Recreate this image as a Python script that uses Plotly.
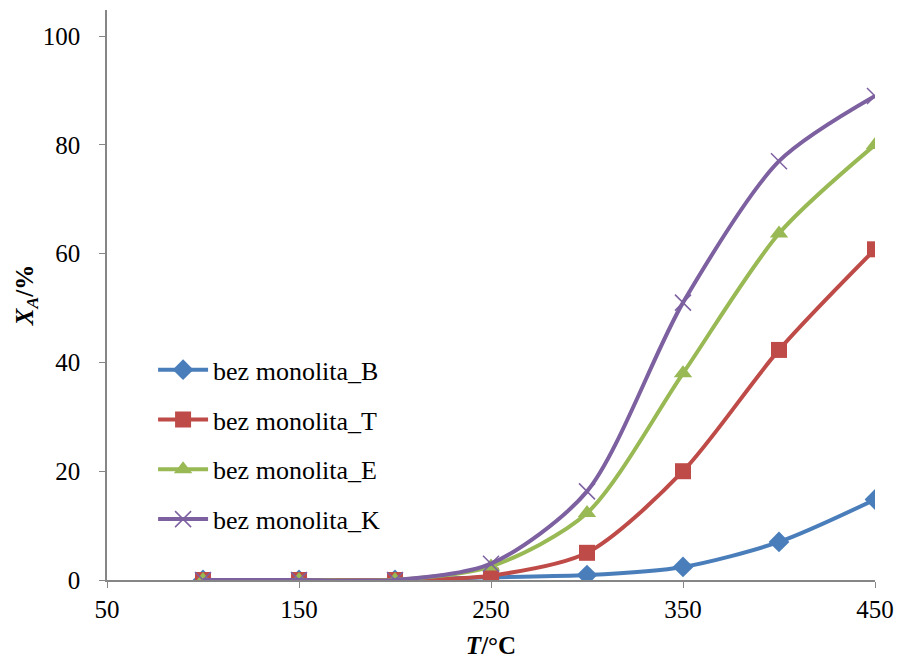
import plotly.graph_objects as go

temps = [100, 150, 200, 250, 300, 350, 400, 450]
x_B = [0, 0, 0, 0.5, 0.9, 2.4, 7.0, 14.8]
x_T = [0, 0, 0, 0.8, 5.0, 20.0, 42.3, 60.8]
x_E = [0, 0, 0, 2.5, 12.3, 38.0, 63.7, 80.0]
x_K = [0, 0, 0, 3.0, 16.3, 51.0, 77.0, 89.0]
names = ["bez monolita_B", "bez monolita_T", "bez monolita_E", "bez monolita_K"]
colors = ["#4A7EBB", "#BE4B48", "#98B954", "#7D60A0"]
symbols = ["diamond", "square", "triangle-up", "x-thin"]
series = [x_B, x_T, x_E, x_K]

fig = go.Figure()
for name, ys, c, s in zip(names, series, colors, symbols):
    marker = dict(symbol=s, size=16, color=c)
    if s == "x-thin":
        marker = dict(symbol=s, size=16, color=c, line=dict(width=1.5, color=c))
    fig.add_trace(go.Scatter(
        x=temps, y=ys, name=name, mode="lines+markers", legendgroup=name,
        line=dict(color=c, width=4, shape="spline", smoothing=0.8),
        marker=marker,
    ))

font_family = "Liberation Serif, Times New Roman, serif"
fig.update_layout(
    width=897, height=659,
    margin=dict(l=107, r=22, t=10, b=79),
    paper_bgcolor="white", plot_bgcolor="white",
    font=dict(family=font_family, size=25, color="black"),
    showlegend=True,
    legend=dict(x=0.06, y=0.41, xanchor="left", yanchor="top",
                bgcolor="rgba(0,0,0,0)", font=dict(size=26),
                tracegroupgap=13, itemwidth=50),
    xaxis=dict(range=[50, 450], tickvals=[50, 150, 250, 350, 450],
               showgrid=False, zeroline=False, showline=True, automargin=False,
               linecolor="#868686", linewidth=1.5, ticks="outside",
               ticklen=6, tickcolor="#868686", ticklabelstandoff=0,
               title=dict(text="<b><i>T</i>/°C</b>", font=dict(size=25), standoff=16)),
    yaxis=dict(range=[0, 104.8], tickvals=[0, 20, 40, 60, 80, 100],
               showgrid=False, zeroline=False, showline=True, automargin=False,
               linecolor="#868686", linewidth=1.5, ticks="outside",
               ticklen=6, tickcolor="#868686", ticklabelstandoff=14,
               title=dict(text="<b><i>X</i><sub><i>A</i></sub>/%</b>", font=dict(size=25), standoff=2)),
)

fig.write_html("out.html", config={"displayModeBar": False},
               post_script="document.body.style.margin='0';document.body.style.overflow='hidden';")
